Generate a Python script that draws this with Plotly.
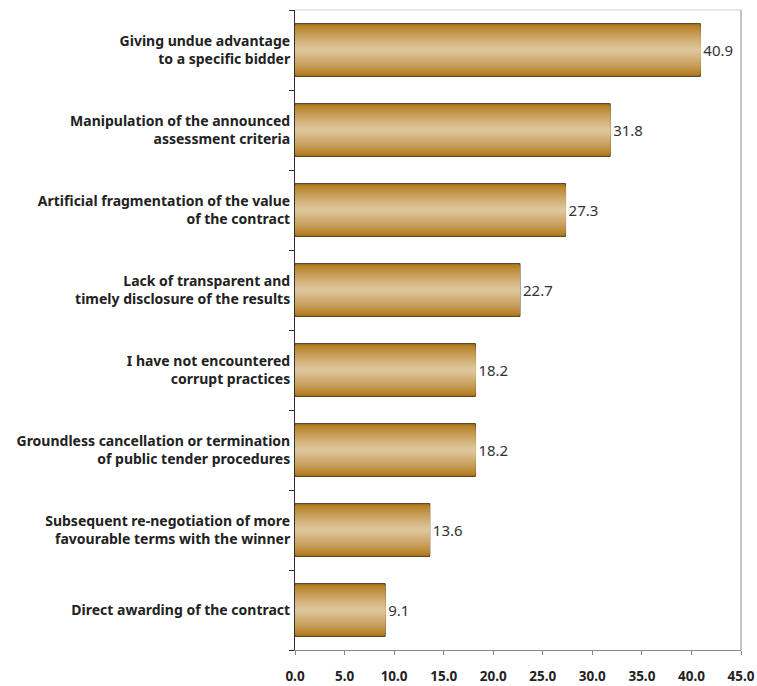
import plotly.graph_objects as go

# Survey results: share of respondents (%) per reported corrupt practice
categories = [
    "Giving undue advantage<br>to a specific bidder",
    "Manipulation of the announced<br>assessment criteria",
    "Artificial fragmentation of the value<br>of the contract",
    "Lack of transparent and<br>timely disclosure of the results",
    "I have not encountered<br>corrupt practices",
    "Groundless cancellation or termination<br>of public tender procedures",
    "Subsequent re-negotiation of more<br>favourable terms with the winner",
    "Direct awarding of the contract",
]
values = [40.9, 31.8, 27.3, 22.7, 18.2, 18.2, 13.6, 9.1]
x_ticks = [0, 5, 10, 15, 20, 25, 30, 35, 40, 45]
x_tick_labels = ["0.0", "5.0", "10.0", "15.0", "20.0", "25.0", "30.0", "35.0", "40.0", "45.0"]

FONT = "Noto Sans"
BAR_WIDTH = 0.66
LAYERS = 16
DARK = (176, 118, 22)
LIGHT = (222, 198, 156)


def blend(t):
    r, g, b = (round(DARK[i] + (LIGHT[i] - DARK[i]) * t) for i in range(3))
    return f"rgb({r},{g},{b})"


fig = go.Figure()

# Stack narrowing bars of lightening colour to give a cylindrical shading
for k in range(LAYERS):
    t = k / (LAYERS - 1)
    w = BAR_WIDTH * (1 - k / LAYERS)
    first = k == 0
    fig.add_trace(go.Bar(
        x=values,
        y=categories,
        orientation="h",
        width=w,
        marker=dict(
            color=blend(t ** 0.8),
            line=dict(color="#4a4030", width=1) if first else dict(width=0),
        ),
        text=[f"{v:.1f}" for v in values] if first else None,
        textposition="outside" if first else "none",
        textfont=dict(family=FONT, size=15, color="#333333"),
        cliponaxis=False,
        hoverinfo="skip",
        showlegend=False,
    ))

fig.update_layout(
    width=757,
    height=686,
    margin=dict(l=295, r=16, t=10, b=36),
    barmode="overlay",
    plot_bgcolor="white",
    paper_bgcolor="white",
    font=dict(family=FONT, size=13, color="#222222"),
    xaxis=dict(
        range=[0, 45],
        automargin=False,
        tickvals=x_ticks,
        ticktext=[f"<b>{t}</b>" for t in x_tick_labels],
        showgrid=False,
        zeroline=False,
        showline=True,
        linecolor="#888888",
        linewidth=1,
        ticks="outside",
        ticklen=4,
        tickcolor="#888888",
        ticklabelstandoff=10,
        tickfont=dict(family=FONT, size=13.5, color="#222222"),
    ),
    yaxis=dict(
        autorange="reversed",
        automargin=False,
        tickvals=categories,
        ticktext=[f"<b>{c}</b>" for c in categories],
        showgrid=False,
        showline=True,
        linecolor="#333333",
        linewidth=1,
        ticks="outside",
        tickson="boundaries",
        ticklen=5,
        tickcolor="#333333",
        tickfont=dict(family=FONT, size=14, color="#222222"),
        ticklabelstandoff=1,
    ),
    shapes=[
        dict(type="line", xref="paper", yref="paper", x0=0, x1=1, y0=1, y1=1,
             line=dict(color="#d0d0d0", width=1)),
        dict(type="line", xref="paper", yref="paper", x0=1, x1=1, y0=0, y1=1,
             line=dict(color="#888888", width=1)),
    ],
)

fig.write_html("out.html")
